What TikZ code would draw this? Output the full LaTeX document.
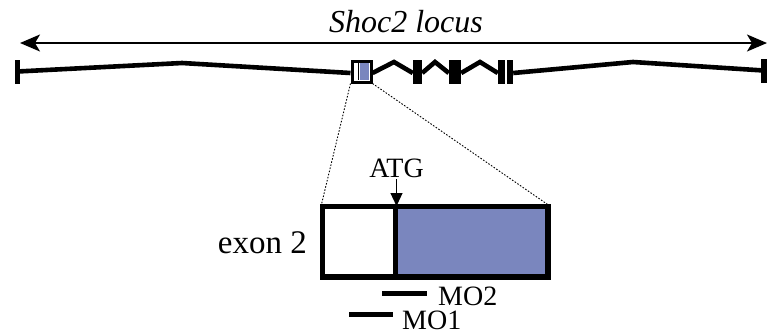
\documentclass[tikz,border=0pt]{standalone}
\usepackage{fontspec}
\setmainfont{Liberation Serif}
\usetikzlibrary{arrows.meta}
\definecolor{exonblue}{RGB}{122,134,190}
\tikzset{
  gene/.style={line width=4.6pt, line join=miter},
  exonbar/.style={fill=black, draw=none, inner sep=0pt, minimum height=24pt},
  zoomline/.style={line width=0.9pt, dash pattern=on 1.6pt off 1.6pt},
  moline/.style={line width=5pt},
  lbl/.style={inner sep=0pt, anchor=base},
}
\begin{document}
\begin{tikzpicture}[x=1pt,y=-1pt]
\useasboundingbox (0,0) rectangle (767,335);
% locus arrow
\coordinate (la) at (20,43);
\coordinate (ra) at (767,43);
\draw[line width=1.9pt, {Stealth[length=20pt,width=17pt,inset=5pt]}-{Stealth[length=20pt,width=17pt,inset=5pt]}] (la) -- (ra);
\node[lbl, font=\fontsize{32}{36}\selectfont\itshape] (title) at (406,32) {Shoc2 locus};
% end bars
\node[exonbar, minimum width=5pt] (lend) at (17.5,71.5) {};
\node[exonbar, minimum width=6pt] (rend) at (763.5,70.5) {};
% small exon 2 box
\node[draw=black, line width=3pt, minimum width=19pt, minimum height=21pt, inner sep=0pt] (sbox) at (361.5,71.5) {};
\fill[exonblue] (360,63) rectangle (369,80);
\draw[line width=1.6pt] (358.3,63) -- (358.3,80);
% other exons
\node[exonbar, minimum width=9pt] (e3) at (417.5,72) {};
\node[exonbar, minimum width=12pt] (e4) at (455,72) {};
\node[exonbar, minimum width=7pt] (e5) at (501.5,72) {};
\node[exonbar, minimum width=6pt] (e6) at (510,72) {};
% introns
\draw[gene] (lend.center) -- (182,63) -- (sbox.west |- 0,73);
\draw[gene] (sbox.east |- 0,73) -- (394,62) -- (e3.west |- 0,73);
\draw[gene] (e3.east |- 0,73) -- (435,62) -- (e4.west |- 0,73);
\draw[gene] (e4.east |- 0,73) -- (480,62) -- (e5.west |- 0,73);
\draw[gene] (e6.east |- 0,73) -- (633,62) -- (rend.center);
% zoomed exon 2
\node[draw=black, line width=3.5pt, minimum width=224pt, minimum height=69pt, inner sep=0pt] (big) at (435,241.5) {};
\fill[exonblue] (397,208.75) rectangle (545.25,274.25);
\draw[line width=4.5pt] (395.5,207) -- (395.5,276);
\draw[line width=3.5pt] (big.north west) rectangle (big.south east);
\draw[zoomline] (sbox.south west) -- (big.north west);
\draw[zoomline] (sbox.south east) -- (big.north east);
% ATG
\node[lbl, font=\fontsize{28}{32}\selectfont] (atg) at (396.5,177) {ATG};
\coordinate (atgtip) at (396.5,206);
\draw[line width=1.2pt, -{Triangle[length=13pt,width=12pt]}] (396.5,179) -- (atgtip);
% exon 2 label
\node[lbl, anchor=base east, font=\fontsize{33}{36}\selectfont] (ex) at (307,253) {exon 2};
% morpholinos
\coordinate (mo2a) at (382,293);
\coordinate (mo2b) at (427,293);
\coordinate (mo1a) at (349,314.5);
\coordinate (mo1b) at (393,314.5);
\draw[moline] (mo2a) -- (mo2b);
\draw[moline] (mo1a) -- (mo1b);
\node[lbl, anchor=base west, font=\fontsize{28}{32}\selectfont] (mo2) at (438,305) {MO2};
\node[lbl, anchor=base west, font=\fontsize{28}{32}\selectfont] (mo1) at (402,329) {MO1};
\end{tikzpicture}
\end{document}
